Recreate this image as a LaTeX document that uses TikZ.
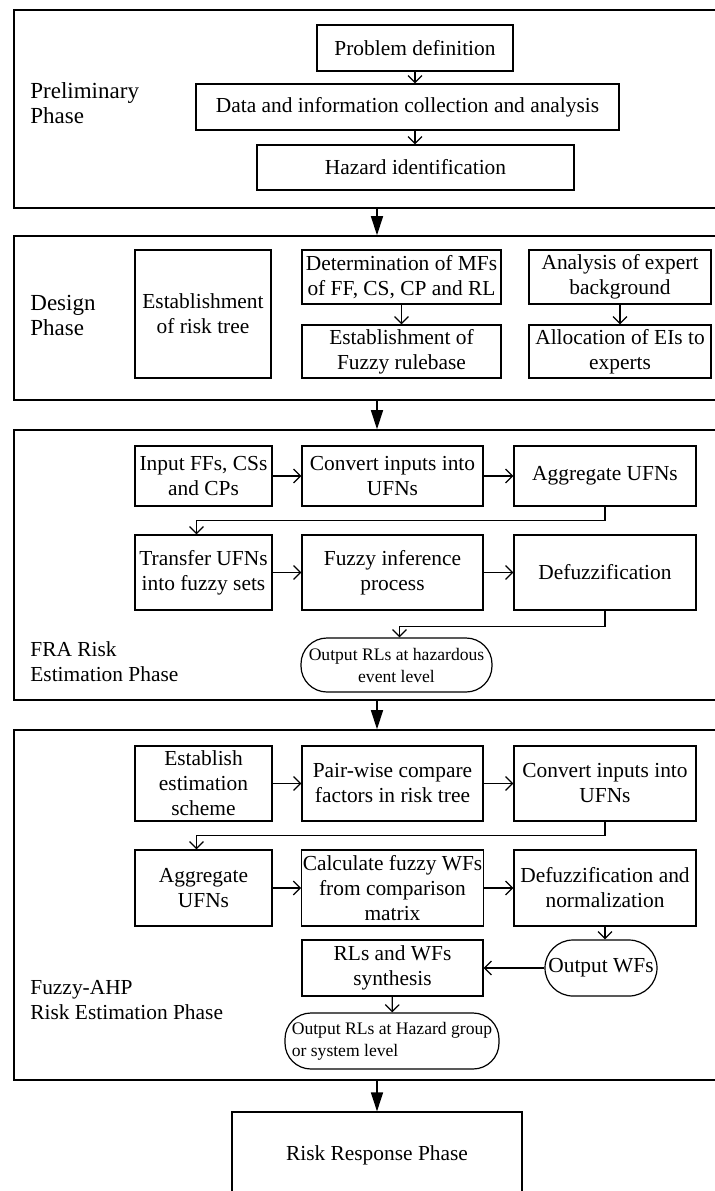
\documentclass[tikz,border=0pt]{standalone}
\usepackage{fontspec}
\setmainfont{Liberation Serif}
\usetikzlibrary{arrows.meta}

\begin{document}
\begin{tikzpicture}[x=0.5pt,y=-0.5pt,
        font=\fontsize{10.7}{12.5}\selectfont,
        phase/.style={draw, line width=0.8pt, inner sep=0pt},
        box/.style={draw, line width=0.6pt, inner xsep=0.5pt, inner ysep=1pt, align=center},
        outbox/.style={draw, line width=0.6pt, rounded corners=13pt, inner sep=1pt, align=center},
        small/.style={font=\fontsize{8.8}{11}\selectfont},
        big/.style={font=\fontsize{11.5}{12.5}\selectfont},
        phaselabel/.style={anchor=west, align=left, inner sep=0pt},
        arr/.style={-{Straight Barb[length=3.5pt,width=7pt]}, line width=0.6pt},
        bigarr/.style={-{Triangle[length=9.5pt,width=6pt]}, line width=0.8pt}]
        \useasboundingbox (0,0) rectangle (715,1191);
        \clip (0,0) rectangle (715,1191);

        % Preliminary phase
        \node[phase, minimum width=358pt, minimum height=99pt] (p1) at (372,109) {};
        \node[phaselabel, big] (l1) at (30,103.5) {Preliminary\\Phase};
        \node[box, minimum width=98pt, minimum height=23pt] (pd) at (415,48) {Problem definition};
        \node[box, minimum width=211.5pt, minimum height=23pt] (dc) at (407.5,107) {Data and information collection and analysis};
        \node[box, minimum width=158.5pt, minimum height=22.5pt] (hz) at (415.5,167.5) {Hazard identification};
        \draw[arr] (pd.south) -- (pd.south |- dc.north);
        \draw[arr] (pd.south |- dc.south) -- (pd.south |- hz.north);

        % Design phase
        \node[phase, minimum width=358pt, minimum height=82pt] (p2) at (372,318) {};
        \node[phaselabel, big] (l2) at (30,315.5) {Design\\Phase};
        \node[box, minimum width=68pt, minimum height=64pt] (rt) at (203,314) {Establishment\\of risk tree};
        \node[box, minimum width=99.5pt, minimum height=27pt] (mf) at (401.5,277) {Determination of MFs\\of FF, CS, CP and RL};
        \node[box, minimum width=99.5pt, minimum height=26.5pt] (rb) at (401.5,351.5) {Establishment of\\Fuzzy rulebase};
        \node[box, minimum width=91pt, minimum height=27pt] (eb) at (620,277) {Analysis of expert\\background};
        \node[box, minimum width=91pt, minimum height=26.5pt] (ea) at (620,351.5) {Allocation of EIs to\\experts};
        \draw[arr] (mf) -- (rb);
        \draw[arr] (eb) -- (ea);

        % FRA risk estimation phase
        \node[phase, minimum width=358pt, minimum height=135pt] (p3) at (372,565) {};
        \node[phaselabel] (l3) at (30,661.5) {FRA Risk\\Estimation Phase};
        \node[box, minimum width=68.5pt, minimum height=30pt] (ff) at (203.5,476) {Input FFs, CSs\\and CPs};
        \node[box, minimum width=90.5pt, minimum height=30pt] (cu) at (392.5,476) {Convert inputs into\\UFNs};
        \node[box, minimum width=91pt, minimum height=30pt] (au) at (605,476) {Aggregate UFNs};
        \node[box, minimum width=68.5pt, minimum height=37.5pt] (tu) at (203.5,572.5) {Transfer UFNs\\into fuzzy sets};
        \node[box, minimum width=90.5pt, minimum height=37.5pt] (fi) at (392.5,572.5) {Fuzzy inference\\process};
        \node[box, minimum width=91pt, minimum height=37.5pt] (df) at (605,572.5) {Defuzzification};
        \node[outbox, small, minimum width=95.5pt, minimum height=27pt] (orl) at (396.5,665) {Output RLs at hazardous\\event level};
        \draw[arr] (ff) -- (cu);
        \draw[arr] (cu) -- (au);
        \draw[arr] (au.south) -- ++(0,14) -| ([xshift=-3.5pt]tu.north);
        \draw[arr] (tu) -- (fi);
        \draw[arr] (fi) -- (df);
        \draw[arr] (df.south) -- ++(0,16) -| ([xshift=1.5pt]orl.north);

        % Fuzzy-AHP risk estimation phase
        \node[phase, minimum width=358pt, minimum height=175pt] (p4) at (372,905) {};
        \node[phaselabel] (l4) at (30,1000) {Fuzzy-AHP\\Risk Estimation Phase};
        \node[box, minimum width=68.5pt, minimum height=37.5pt] (es) at (203.5,783.5) {Establish\\estimation\\scheme};
        \node[box, minimum width=90.5pt, minimum height=37.5pt] (pc) at (392.5,783.5) {Pair-wise compare\\factors in risk tree};
        \node[box, minimum width=91pt, minimum height=37.5pt] (ci) at (605,783.5) {Convert inputs into\\UFNs};
        \node[box, minimum width=68.5pt, minimum height=38pt] (ag) at (203.5,888) {Aggregate\\UFNs};
        \node[box, minimum width=90.5pt, minimum height=38pt] (cw) at (392.5,888) {Calculate fuzzy WFs\\from comparison\\matrix};
        \node[box, minimum width=91pt, minimum height=38pt] (dn) at (605,888) {Defuzzification and\\normalization};
        \node[box, minimum width=90.5pt, minimum height=28pt] (sy) at (392.5,968) {RLs and WFs\\synthesis};
        \node[outbox, rounded corners=14pt, minimum width=56pt, minimum height=28pt] (ow) at (601,968) {Output WFs};
        \node[outbox, small, align=left, minimum width=107pt, minimum height=28pt] (org) at (392,1041) {Output RLs at Hazard group\\or system level};
        \draw[arr] (es) -- (pc);
        \draw[arr] (pc) -- (ci);
        \draw[arr] (ci.south) -- ++(0,14) -| ([xshift=-3.5pt]ag.north);
        \draw[arr] (ag) -- (cw);
        \draw[arr] (cw) -- (dn);
        \draw[arr] (dn.south) -- (dn.south |- ow.north);
        \draw[arr] (ow) -- (sy);
        \draw[arr] (sy) -- (org);

        % Risk response phase
        \node[box, minimum width=145pt, minimum height=43pt] (rr) at (377,1155) {Risk Response Phase};

        % Phase to phase
        \draw[bigarr] (p1.south -| rr.north) -- (p2.north -| rr.north);
        \draw[bigarr] (p2.south -| rr.north) -- (p3.north -| rr.north);
        \draw[bigarr] (p3.south -| rr.north) -- (p4.north -| rr.north);
        \draw[bigarr] (p4.south -| rr.north) -- (rr.north);
    \end{tikzpicture}
\end{document}
